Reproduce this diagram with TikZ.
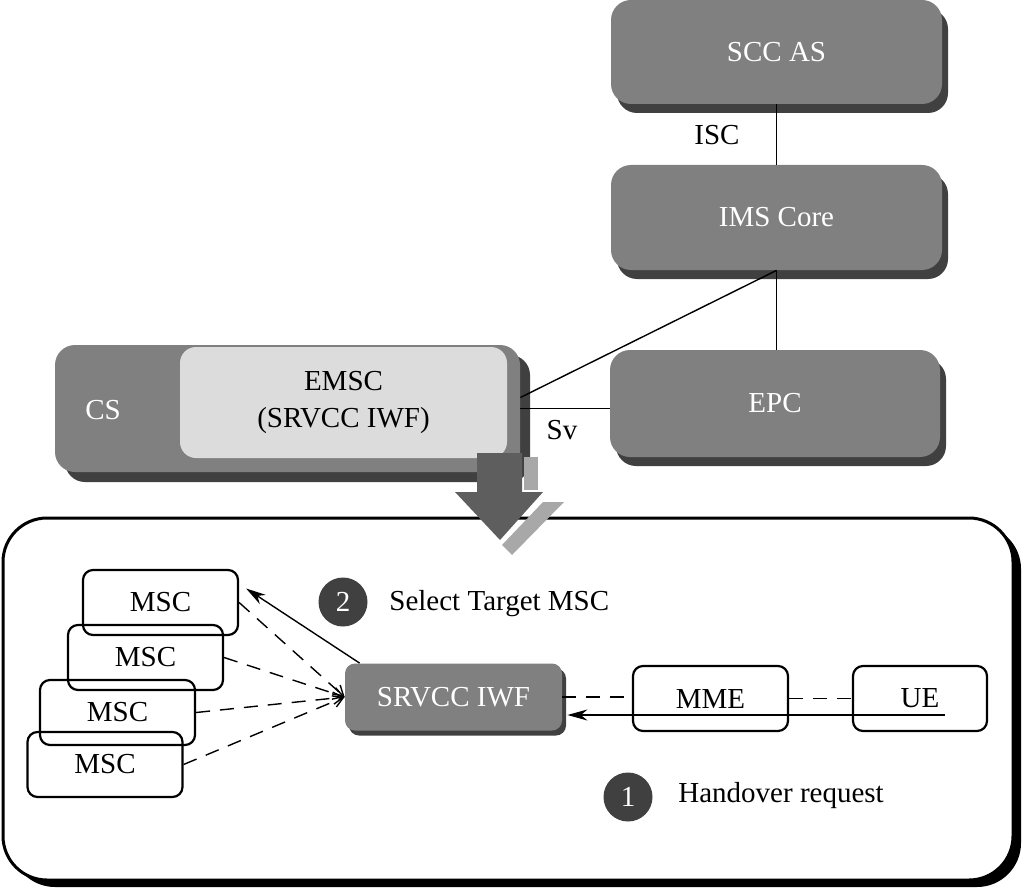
\documentclass[tikz,border=0pt]{standalone}
\usepackage{fontspec}
\setmainfont{Liberation Serif}
\usetikzlibrary{shadows,arrows.meta,calc}
\definecolor{boxgray}{HTML}{808080}
\definecolor{shadowgray}{HTML}{404040}
\definecolor{emscgray}{HTML}{DCDCDC}
\definecolor{circgray}{HTML}{404040}
\definecolor{arrowdark}{HTML}{5E5E5E}
\definecolor{arrowlight}{HTML}{A8A8A8}
\begin{document}
\begin{tikzpicture}[x=0.5pt,y=-0.5pt,
  every node/.style={font=\fontsize{14.5}{18.5}\selectfont},
  graybox/.style={rectangle, rounded corners=10pt, fill=boxgray, text=white, inner sep=0pt,
    minimum width=165.5pt, minimum height=52pt},
  shadowA/.style={drop shadow={shadow xshift=3pt, shadow yshift=-4.5pt, fill=shadowgray, opacity=1}},
  shadowB/.style={drop shadow={shadow xshift=5pt, shadow yshift=-5pt, fill=shadowgray, opacity=1}},
  shadowC/.style={drop shadow={shadow xshift=2pt, shadow yshift=-2.5pt, fill=shadowgray, opacity=1}},
  mscbox/.style={rectangle, draw, line width=1.1pt, rounded corners=5pt, inner sep=0pt,
    minimum width=77.5pt, minimum height=32.5pt},
  label/.style={inner sep=0pt},
  conn/.style={line width=0.7pt},
  dashconn/.style={line width=0.7pt, dash pattern=on 7pt off 5pt},
  harrow/.style={line width=0.7pt, -{Stealth[length=10pt,width=5.5pt]}},
  barb/.style={-{Straight Barb[length=5pt,width=6pt]}},
  stepcirc/.style={circle, fill=circgray, text=white, minimum size=24.5pt, inner sep=0pt}
]
\useasboundingbox (0,0) rectangle (1027,893);

% top network
\node[graybox, shadowA] (scc) at (776.5,52) {SCC AS};
\node[graybox, shadowA, minimum height=52.5pt] (ims) at (776.5,217.5) {IMS Core};
\node[graybox, shadowA, minimum width=165pt, minimum height=53.5pt] (epc) at (775,403.5) {EPC};
\node[graybox, shadowB, minimum width=232.5pt, minimum height=63.5pt] (cs) at (287.5,408.5) {};
\node[label, text=white] (cslabel) at (103,410) {CS};
\node[rectangle, rounded corners=8pt, fill=emscgray, inner sep=0pt, align=center,
  minimum width=163.5pt, minimum height=55.5pt] (emsc) at (343.5,402.5) {EMSC\\(SRVCC IWF)};

\draw[conn] (scc.south) -- (ims.north);
\node[label] (isc) at (717,135) {ISC};
\draw[conn] (ims.south) -- (ims.south |- epc.north);
\draw[conn] (ims.south) -- ($(cs.east)+(0,-11)$);
\draw[conn] (cs.east) -- (cs.east -| epc.west);
\node[label] (sv) at (562,430) {Sv};

% lower frame
\node[rectangle, draw, line width=1.5pt, rounded corners=22pt, fill=white, inner sep=0pt,
  minimum width=505pt, minimum height=181pt,
  drop shadow={shadow xshift=4pt, shadow yshift=-3.5pt, fill=black, opacity=1}] (env) at (508,699) {};

% big transition arrow
\fill[arrowdark] (477,453) -- (522,453) -- (522,492) -- (543,492) -- (500,540) -- (455,492) -- (477,492) -- cycle;
\fill[arrowlight] (524,457) rectangle (538,490);
\fill[arrowlight] (543,502) -- (564,502) -- (512,555) -- (502,545) -- cycle;

% MSC stack
\node[mscbox] (msc1) at (160.5,602.5) {MSC};
\node[mscbox] (msc2) at (145.5,657.5) {MSC};
\node[mscbox] (msc3) at (117.5,712.5) {MSC};
\node[mscbox] (msc4) at (105,764.5) {MSC};

\node[graybox, shadowC, rounded corners=5pt, minimum width=108.5pt, minimum height=33.5pt] (iwf) at (453.5,697) {SRVCC IWF};
\node[mscbox] (mme) at (710.5,698.5) {MME};
\node[mscbox, minimum width=67pt] (ue) at (920,698.5) {UE};

\draw[dashconn] (iwf.east) -- (iwf.east -| mme.west);
\draw[dashconn] (mme.east) -- (ue.west);
\coordinate (uesrc) at (945,715);
\draw[harrow] (uesrc) -- ($(uesrc -| iwf.east)+(5,0)$);

\draw[harrow] ($(iwf.north west)+(15,0)$) -- ($(msc1.east)+(7,-14)$);
\foreach \i in {1,2,3,4} {
  \draw[dashconn, barb] (msc\i.east) -- (iwf.west);
}

\node[stepcirc] (c2) at (343,602) {2};
\node[label, anchor=west] (t2) at (389,604) {Select Target MSC};
\node[stepcirc] (c1) at (628,797) {1};
\node[label, anchor=west] (t1) at (678,796) {Handover request};
\end{tikzpicture}
\end{document}
